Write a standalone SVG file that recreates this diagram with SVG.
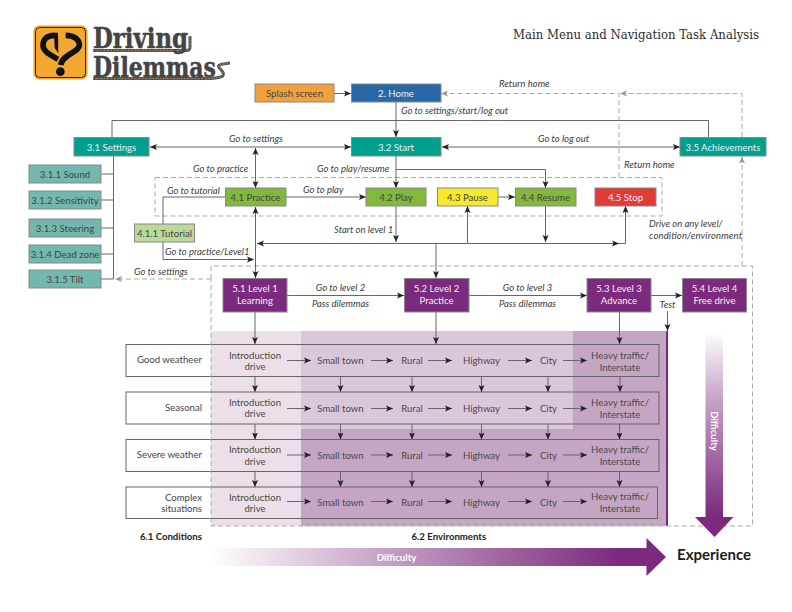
<svg xmlns="http://www.w3.org/2000/svg" width="792" height="612" viewBox="0 0 792 612">
<style>
text{font-family:"Lato","Open Sans",sans-serif;font-size:9.6px;fill:#444}
.n rect{stroke:#888;stroke-width:1}
.c text{text-anchor:middle}
.w text{fill:#f4eef4}
.l{font-style:italic;font-size:9.5px;fill:#3c3c3c}
.m{text-anchor:middle}
.e{text-anchor:end}
.s{fill:none;stroke:#666;stroke-width:1}
.a{marker-end:url(#ah)}
.b{marker-end:url(#ah);marker-start:url(#ahs)}
.d{fill:none;stroke:#aaa;stroke-width:1;stroke-dasharray:5 3}
.g{marker-end:url(#agr)}
.row{fill:none;stroke:#666;stroke-width:1}
.h{font-weight:700;fill:#222}
.t{text-anchor:middle;fill:#4a4a4a}
.lg{font-family:"DejaVu Serif",serif;font-weight:700;font-size:27px;fill:#444;stroke:#444;stroke-width:.5}
.dw{font-weight:700;fill:#fff;font-size:9.6px;text-anchor:middle}
.rd{fill:none;stroke:#555;stroke-width:3}
.rc{fill:none;stroke:#c8963c;stroke-width:.8;stroke-dasharray:1.5 2}
</style>
<defs>
<marker id="ah" markerUnits="userSpaceOnUse" markerWidth="8" markerHeight="8" refX="7" refY="4" orient="auto"><path d="M7,4 L0,1 L1.500,4 L0,7z" fill="#222"/></marker>
<marker id="ahs" markerUnits="userSpaceOnUse" markerWidth="8" markerHeight="8" refX="1" refY="4" orient="auto"><path d="M1,4 L8,1 L6.500,4 L8,7z" fill="#222"/></marker>
<marker id="agr" markerUnits="userSpaceOnUse" markerWidth="8" markerHeight="8" refX="7" refY="4" orient="auto"><path d="M7,4 L0,1 L1.500,4 L0,7z" fill="#999"/></marker>
<linearGradient id="gv" gradientUnits="userSpaceOnUse" x1="0" y1="331" x2="0" y2="517"><stop offset="0" stop-color="#fff"/><stop offset=".35" stop-color="#c9a6c9"/><stop offset="1" stop-color="#7b2a7d"/></linearGradient>
<linearGradient id="gh" gradientUnits="userSpaceOnUse" x1="211" y1="0" x2="620" y2="0"><stop offset="0" stop-color="#fff"/><stop offset=".4" stop-color="#c9a6c9"/><stop offset="1" stop-color="#7b2a7d"/></linearGradient>
</defs>

<g id="logo">
<rect x="33.500" y="25.500" width="54" height="54" rx="6" fill="#f0a830" stroke="#f5c87a"/>
<rect x="35.500" y="27.500" width="50" height="50" rx="4" fill="#f0a830" stroke="#222" stroke-width="1"/>
<g transform="translate(28 20) scale(.3333)">
<path d="M80,46 C55,46 45,60 45,75 C45,95 68,105 90,118" fill="none" stroke="#111" stroke-width="17"/>
<path d="M113,46 C140,46 154,60 154,75 C154,98 105,100 98,135" fill="none" stroke="#111" stroke-width="17"/>
<path d="M78,38 L90,38 L91,100 L80,84z" fill="#111"/>
<circle cx="97" cy="155" r="13" fill="#111"/>
</g>
<path class="rd" d="M93,50.500 H187 Q190,50.500 190,47 V36"/>
<path class="rc" d="M93,50.500 H187 Q190,50.500 190,47 V36"/>
<path class="rd" d="M93,78.500 H205 C222,78.500 226,76 222,71 C218,66 214,65 230,63"/>
<path class="rc" d="M93,78.500 H205 C222,78.500 226,76 222,71 C218,66 214,65 230,63"/>
<text class="lg" x="93" y="48" textLength="95" lengthAdjust="spacingAndGlyphs">Driving</text>
<text class="lg" x="93" y="76.500" textLength="123" lengthAdjust="spacingAndGlyphs">Dilemmas</text>
</g>
<text x="513" y="38.500" textLength="246" lengthAdjust="spacingAndGlyphs" style="font-family:'DejaVu Serif',serif;font-size:12px;fill:#2c2c2c">Main Menu and Navigation Task Analysis</text>

<g id="backgrounds">
<rect x="211" y="331" width="90" height="195" fill="#ebdfe9"/>
<rect x="301" y="331" width="272" height="98" fill="#dac7d9"/>
<rect x="573" y="331" width="94" height="195" fill="#c5a5c4"/>
<rect x="301" y="429" width="272" height="97" fill="#c5a5c4"/>
<rect x="666" y="331" width="2" height="195" fill="#7b2a7d"/>
<rect x="126" y="344.500" width="85" height="32" fill="#fff"/>
<rect x="126" y="392" width="85" height="32" fill="#fff"/>
<rect x="126" y="439.500" width="85" height="32" fill="#fff"/>
<rect x="126" y="487" width="85" height="31.500" fill="#fff"/>
</g>

<g id="connectors">
<rect class="row" x="126" y="344.500" width="533" height="32"/>
<rect class="row" x="126" y="392" width="533" height="32"/>
<rect class="row" x="126" y="439.500" width="533" height="32"/>
<rect class="row" x="126" y="487" width="531.500" height="31.500"/>

<path class="d" d="M211,279 V266 H752.500 V526 H211 V279"/>
<path class="d g" d="M211,279 H115"/>
<rect class="d" x="155" y="177.500" width="507" height="38.500"/>
<path class="d g" d="M619,177 V93.500 H441"/>
<path class="d g" d="M742,137 V93.500 H620"/>
<path class="d g" d="M742,266 V156.500"/>

<path class="s a" d="M334,93.500 H351"/>
<path class="s a" d="M396,102 V137"/>
<path class="s" d="M112,137 V120.500 H708.500 V137"/>
<path class="s b" d="M150,147 H351"/>
<path class="s b" d="M442,147 H680"/>
<path class="s b" d="M255.500,148 V188"/>
<path class="s a" d="M396,156 V188"/>
<path class="s a" d="M396,169.500 H545.500 V188"/>
<path class="s" d="M113.500,156 V279 M101,174 H113.500 M101,200 H113.500 M101,228 H113.500 M101,254 H113.500 M101,279 H113.500"/>
<path class="s" d="M225,197 H163 V224"/>
<path class="s a" d="M163,242 V259.500 H254"/>
<path class="s a" d="M286,197 H366"/>
<path class="s a" d="M498,197 H515"/>
<path class="s b" d="M255.500,207 V278"/>
<path class="s a" d="M396,206 V242"/>
<path class="s a" d="M545.500,206 V242"/>
<path class="s" d="M257,243.500 H625.500" marker-start="url(#ahs)"/>
<path class="s a" d="M625.500,243.500 V206"/>
<path class="s a" d="M610,243.500 H619"/>
<path class="s a" d="M467.500,243.500 V206"/>
<path class="s a" d="M436,243.500 V278"/>
<path class="s a" d="M287,295.500 H404"/>
<path class="s a" d="M469,295.500 H587"/>
<path class="s a" d="M651,295.500 H682"/>
<path class="s a" d="M667.500,311 V331"/>
<path class="s a" d="M255,312 V344"/>
<path class="s a" d="M436,312 V344"/>
<path class="s a" d="M619.500,312 V344"/>

<path class="s a" d="M255,376.500 V392"/><path class="s a" d="M340.500,376.500 V392"/><path class="s a" d="M412,376.500 V392"/><path class="s a" d="M481.500,376.500 V392"/><path class="s a" d="M548,376.500 V392"/><path class="s a" d="M620,376.500 V392"/>
<path class="s a" d="M255,424 V439.500"/><path class="s a" d="M340.500,424 V439.500"/><path class="s a" d="M412,424 V439.500"/><path class="s a" d="M481.500,424 V439.500"/><path class="s a" d="M548,424 V439.500"/><path class="s a" d="M619.500,424 V439.500"/>
<path class="s a" d="M255,471.500 V487"/><path class="s a" d="M340.500,471.500 V487"/><path class="s a" d="M412,471.500 V487"/><path class="s a" d="M481.500,471.500 V487"/><path class="s a" d="M548,471.500 V487"/><path class="s a" d="M619.500,471.500 V487"/>

<path class="s a" d="M287,360.500 H311"/><path class="s a" d="M371,360.500 H393"/><path class="s a" d="M428,360.500 H452"/><path class="s a" d="M508,360.500 H532"/><path class="s a" d="M563,360.500 H587"/>
<path class="s a" d="M287,408.500 H311"/><path class="s a" d="M371,408.500 H393"/><path class="s a" d="M428,408.500 H452"/><path class="s a" d="M508,408.500 H532"/><path class="s a" d="M563,408.500 H587"/>
<path class="s a" d="M287,455 H311"/><path class="s a" d="M371,455 H393"/><path class="s a" d="M428,455 H452"/><path class="s a" d="M508,455 H532"/><path class="s a" d="M563,455 H587"/>
<path class="s a" d="M287,501.500 H311"/><path class="s a" d="M371,501.500 H393"/><path class="s a" d="M428,501.500 H452"/><path class="s a" d="M508,501.500 H532"/><path class="s a" d="M563,501.500 H587"/>
</g>

<g class="c">
<g id="splash" class="n"><rect x="255" y="84" width="79" height="18" fill="#f0a13c"/><text x="294.500" y="96.500">Splash screen</text></g>
<g id="home" class="n w"><rect x="351.500" y="84" width="89.500" height="18" fill="#2868a6"/><text x="396" y="96.500">2. Home</text></g>
<g id="settings" class="n w"><rect x="74" y="137.500" width="75" height="18.500" fill="#00a08c"/><text x="111.500" y="150.500">3.1 Settings</text></g>
<g id="start" class="n w"><rect x="351.500" y="137.500" width="89.500" height="18.500" fill="#00a08c"/><text x="396" y="150.500">3.2 Start</text></g>
<g id="achievements" class="n w"><rect x="680" y="137.500" width="86" height="18.500" fill="#00a08c"/><text x="723" y="150.500">3.5 Achievements</text></g>
<g id="sound" class="n"><rect x="29" y="165" width="72" height="18" fill="#72b8ae"/><text x="65" y="177.500">3.1.1 Sound</text></g>
<g id="sensitivity" class="n"><rect x="29" y="191" width="72" height="18" fill="#72b8ae"/><text x="65" y="203.500">3.1.2 Sensitivity</text></g>
<g id="steering" class="n"><rect x="29" y="219" width="72" height="18" fill="#72b8ae"/><text x="65" y="231.500">3.1.3 Steering</text></g>
<g id="deadzone" class="n"><rect x="29" y="245" width="72" height="18" fill="#72b8ae"/><text x="65" y="257.500">3.1.4 Dead zone</text></g>
<g id="tilt" class="n"><rect x="29" y="270" width="72" height="18" fill="#72b8ae"/><text x="65" y="282.500">3.1.5 Tilt</text></g>
<g id="practice" class="n"><rect x="225.500" y="188" width="60.500" height="18" fill="#82b93c"/><text x="255.500" y="200.500">4.1 Practice</text></g>
<g id="play" class="n"><rect x="366" y="188" width="60" height="18" fill="#82b93c"/><text x="396" y="200.500">4.2 Play</text></g>
<g id="pause" class="n"><rect x="437.500" y="188" width="60.500" height="18" fill="#f6e92f"/><text x="467.500" y="200.500">4.3 Pause</text></g>
<g id="resume" class="n"><rect x="515.500" y="188" width="60.500" height="18" fill="#82b93c"/><text x="545.500" y="200.500">4.4 Resume</text></g>
<g id="stop" class="n w"><rect x="595" y="188" width="61" height="18" fill="#e03c35"/><text x="625.500" y="200.500">4.5 Stop</text></g>
<g id="tutorial" class="n"><rect x="134.500" y="224" width="60" height="18" fill="#bdd99a"/><text x="164.500" y="236.500">4.1.1 Tutorial</text></g>
<g id="level1" class="n w"><rect x="223" y="278.500" width="64" height="33.500" fill="#7b2a7d"/><text x="255" y="292">5.1 Level 1</text><text x="255" y="304">Learning</text></g>
<g id="level2" class="n w"><rect x="404.500" y="278.500" width="64.500" height="33.500" fill="#7b2a7d"/><text x="436.500" y="292">5.2 Level 2</text><text x="436.500" y="304">Practice</text></g>
<g id="level3" class="n w"><rect x="587" y="278.500" width="64" height="33.500" fill="#7b2a7d"/><text x="619" y="292">5.3 Level 3</text><text x="619" y="304">Advance</text></g>
<g id="level4" class="n w"><rect x="682.500" y="278.500" width="64" height="33.500" fill="#7b2a7d"/><text x="714.500" y="292">5.4 Level 4</text><text x="714.500" y="304">Free drive</text></g>
</g>

<g id="labels">
<text class="l m" x="256" y="142">Go to settings</text>
<text class="l" x="193" y="172">Go to practice</text>
<text class="l" x="317" y="172">Go to play/resume</text>
<text class="l" x="167" y="194">Go to tutorial</text>
<text class="l" x="303" y="192.500">Go to play</text>
<text class="l" x="334" y="232.500">Start on level 1</text>
<text class="l" x="165" y="254.500">Go to practice/Level1</text>
<text class="l" x="134" y="274.500">Go to settings</text>
<text class="l" x="401" y="114">Go to settings/start/log out</text>
<text class="l" x="499" y="86.500">Return home</text>
<text class="l" x="538" y="142">Go to log out</text>
<text class="l" x="624" y="167.500">Return home</text>
<text class="l" x="649" y="226.500">Drive on any level/</text>
<text class="l" x="649" y="238.500" textLength="93">condition/environment</text>
<text class="l m" x="340.500" y="290.500">Go to level 2</text>
<text class="l m" x="340.500" y="306.500">Pass dilemmas</text>
<text class="l m" x="527.500" y="290.500">Go to level 3</text>
<text class="l m" x="527.500" y="306.500">Pass dilemmas</text>
<text class="l m" x="667.500" y="307.500">Test</text>
</g>

<g id="conditions">
<text class="e" x="202" y="362.500">Good weatheer</text>
<text class="e" x="202" y="410.500">Seasonal</text>
<text class="e" x="202" y="458">Severe weather</text>
<text class="e" x="202" y="500.500">Complex</text>
<text class="e" x="202" y="511.500">situations</text>
<text class="h e" x="202" y="539.500">6.1 Conditions</text>
<text class="h" x="411.500" y="539.500">6.2 Environments</text>
</g>

<g id="environments">
<text class="t" x="255" y="358.500">Introduction</text><text class="t" x="255" y="369.500">drive</text>
<text class="t" x="255" y="405.500">Introduction</text><text class="t" x="255" y="416.500">drive</text>
<text class="t" x="255" y="453">Introduction</text><text class="t" x="255" y="464.500">drive</text>
<text class="t" x="255" y="500.500">Introduction</text><text class="t" x="255" y="511.500">drive</text>
<text class="t" x="340.500" y="363.500">Small town</text><text class="t" x="412" y="363.500">Rural</text><text class="t" x="481.500" y="363.500">Highway</text><text class="t" x="548.500" y="363.500">City</text>
<text class="t" x="340.500" y="411.500">Small town</text><text class="t" x="412" y="411.500">Rural</text><text class="t" x="481.500" y="411.500">Highway</text><text class="t" x="548.500" y="411.500">City</text>
<text class="t" x="340.500" y="458.500">Small town</text><text class="t" x="412" y="458.500">Rural</text><text class="t" x="481.500" y="458.500">Highway</text><text class="t" x="548.500" y="458.500">City</text>
<text class="t" x="340.500" y="505.500">Small town</text><text class="t" x="412" y="505.500">Rural</text><text class="t" x="481.500" y="505.500">Highway</text><text class="t" x="548.500" y="505.500">City</text>
<text class="t" x="620" y="358.500">Heavy traffic/</text><text class="t" x="620" y="370.500">Interstate</text>
<text class="t" x="620" y="405.500">Heavy traffic/</text><text class="t" x="620" y="417.500">Interstate</text>
<text class="t" x="620" y="453">Heavy traffic/</text><text class="t" x="620" y="465">Interstate</text>
<text class="t" x="620" y="499.500">Heavy traffic/</text><text class="t" x="620" y="511.500">Interstate</text>
</g>

<g id="difficulty">
<path d="M705.500,331 H723 V517 H733.500 L714.500,537 L695,517 H705.500z" fill="url(#gv)"/>
<text class="dw" transform="translate(711 431) rotate(90)">Difficulty</text>
<path d="M211,548 H646.500 V538 L666,557 L646.500,576 V566 H211z" fill="url(#gh)"/>
<text class="dw" x="396.500" y="561">Difficulty</text>
<text x="714" y="560" text-anchor="middle" style="font-weight:700;font-size:15px;fill:#1c1c1c">Experience</text>
</g>
</svg>
